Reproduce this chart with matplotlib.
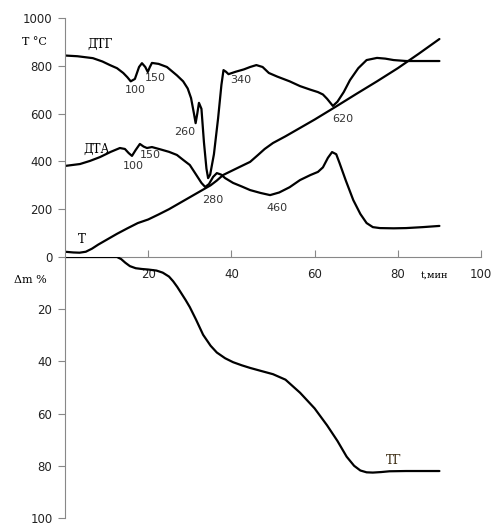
import numpy as np
import matplotlib.pyplot as plt

# time axis, min
t_T = [0, 2, 3.5, 5, 6.5, 8, 10, 12.5, 15, 17.5, 20, 22.5, 25, 27.5, 30, 32, 33.5, 35, 36.5,
       38, 40, 42, 44.5, 46.4, 48, 50, 53, 56, 60, 65, 70, 75, 80, 85, 90]
temp = [22, 19, 18, 22, 35, 52, 72, 97, 120, 142, 157, 178, 200, 225, 250, 270, 285, 300, 320,
        343, 360, 377, 398, 427, 452, 477, 505, 535, 575, 628, 682, 735, 790, 850, 912]

t_dtg = [0, 3, 6.7, 9, 10.8, 12.5, 14, 15, 15.8, 16.8, 17.8, 18.5, 19.3, 19.9, 20.4, 20.9, 22.5,
         24.5, 26.9, 28.4, 29.5, 30.3, 31, 31.4, 31.8, 32.2, 32.8, 33.4, 34, 34.4, 34.9, 35.8,
         36.8, 37.6, 38.1, 38.7, 39.3, 41, 43, 44.5, 46, 47.5, 49, 51, 54, 56.5, 59, 60.8, 62, 63,
         64.4, 65.5, 67, 68.5, 70.5, 72.5, 75, 77, 79, 82, 90]
dtg = [843, 840, 832, 818, 803, 790, 770, 752, 735, 745, 795, 811, 795, 774, 795, 812, 808,
       795, 760, 735, 705, 665, 600, 560, 600, 645, 620, 480, 370, 330, 345, 430,
       580, 720, 782, 775, 765, 775, 785, 795, 803, 795, 770, 755, 735, 715, 700, 690, 680, 662,
       632, 650, 690, 740, 790, 824, 833, 830, 824, 820, 820]

t_dta = [0, 3.6, 6, 8.4, 11, 13.2, 14.4, 15.3, 16.1, 17, 18, 18.9, 19.7, 20.9, 23, 25, 26.9,
         28.5, 30, 31.5, 32.8, 33.7, 34.6, 35.6, 36.5, 37.5, 38.5, 40.4, 42.5, 44.5, 47, 49.3,
         51.5, 54, 56.5, 59, 60.8, 62, 63.2, 64.2, 65.2, 66, 67.5, 69.3, 71, 72.5, 74, 75.7, 79,
         82, 86, 90]
dta = [381, 389, 402, 418, 440, 456, 452, 435, 423, 448, 473, 462, 456, 460, 450, 440, 427,
       405, 385, 345, 310, 293, 305, 335, 351, 345, 330, 310, 295, 280, 268, 259,
       270, 292, 322, 343, 356, 375, 415, 439, 430, 393, 320, 238, 180, 142, 125, 121, 120,
       121, 125, 130]

t_tg = [0, 10, 12.5, 13.5, 14.5, 15.6, 17, 18.5, 20, 22, 23.5, 25, 26, 27, 28, 29, 30, 31.5,
        33.2, 35, 36.5, 38.5, 40.4, 42.5, 44.5, 47, 50, 53, 56.5, 60, 63, 65.5, 67.7, 69.5,
        71, 72.5, 74, 76, 78, 82, 86, 90]
tg = [0, 0, 0, 0.8, 2.2, 3.5, 4.3, 4.6, 4.8, 5.2, 6.0, 7.5, 9.3, 11.5, 14, 16.5, 19.2, 24,
      29.8, 34, 36.6, 38.8, 40.3, 41.5, 42.5, 43.6, 44.9, 47, 52, 58, 64.5, 70.5, 76.5, 80,
      81.8, 82.5, 82.6, 82.4, 82.1, 82, 82, 82]

x_ticks = [20, 40, 60, 80, 100]
top_ticks = [0, 200, 400, 600, 800, 1000]
bot_ticks = [20, 40, 60, 80, 100]

peak_labels = [
    ("100", 17, 700), ("150", 21.8, 748), ("260", 28.8, 523), ("340", 42.2, 742),
    ("620", 66.9, 577), ("100", 16.4, 381), ("150", 20.6, 425), ("280", 35.6, 238),
    ("460", 51, 205),
]

W, H = 493, 528
fig = plt.figure(figsize=(W / 100, H / 100), dpi=100)
left, right = 65 / W, 481 / W
ax = fig.add_axes([left, 1 - 257 / H, right - left, 239 / H])
ax2 = fig.add_axes([left, 1 - 518 / H, right - left, 261 / H])

axis_col = '#888888'
tick_col = '#222222'
lw = 1.6

for a in (ax, ax2):
    for s in ('top', 'right'):
        a.spines[s].set_visible(False)
    a.spines['left'].set_color(axis_col)
    a.spines['bottom'].set_color(axis_col)
    a.set_xlim(0, 100)
    a.tick_params(axis='y', direction='out', length=5, color=axis_col,
                  labelsize=8.5, labelcolor=tick_col, pad=4)

for tx, ty in ((t_T, temp), (t_dtg, dtg), (t_dta, dta)):
    ax.plot(tx, ty, color='black', lw=lw, solid_joinstyle='round', solid_capstyle='round')
ax.set_ylim(0, 1000)
ax.set_yticks(top_ticks)
ax.set_xticks(x_ticks)
ax.tick_params(axis='x', direction='in', length=5, color=axis_col,
               labelsize=8.5, labelcolor=tick_col, pad=8)
ax.patch.set_alpha(0)

ax2.plot(t_tg, tg, color='black', lw=lw, solid_joinstyle='round', solid_capstyle='round')
ax2.set_ylim(100, 0)
ax2.set_yticks(bot_ticks)
ax2.spines['bottom'].set_visible(False)
ax2.set_xticks([])
ax2.patch.set_alpha(0)

for txt, x, y in peak_labels:
    ax.text(x, y, txt, fontsize=8, color='#333333', ha='center', va='center')

serif = 'DejaVu Serif'
ax.text(8.4, 890, 'ДТГ', fontsize=8.5, family=serif, ha='center', va='center')
ax.text(7.7, 450, 'ДТА', fontsize=8.5, family=serif, ha='center', va='center')
ax.text(4.0, 72, 'Т', fontsize=8.5, family=serif, ha='center', va='center')
ax2.text(79, 78, 'ТГ', fontsize=8.5, family=serif, ha='center', va='center', color='#3a2a10')

fig.text(34 / W, 1 - 42 / H, 'T °C', fontsize=8, family=serif, ha='center', va='center')
fig.text(30 / W, 1 - 280 / H, 'Δm %', fontsize=8, family=serif, ha='center', va='center')
fig.text(435 / W, 1 - 275 / H, 't,мин', fontsize=7, family=serif, ha='center', va='center')

fig.savefig('out.png', dpi=100)
